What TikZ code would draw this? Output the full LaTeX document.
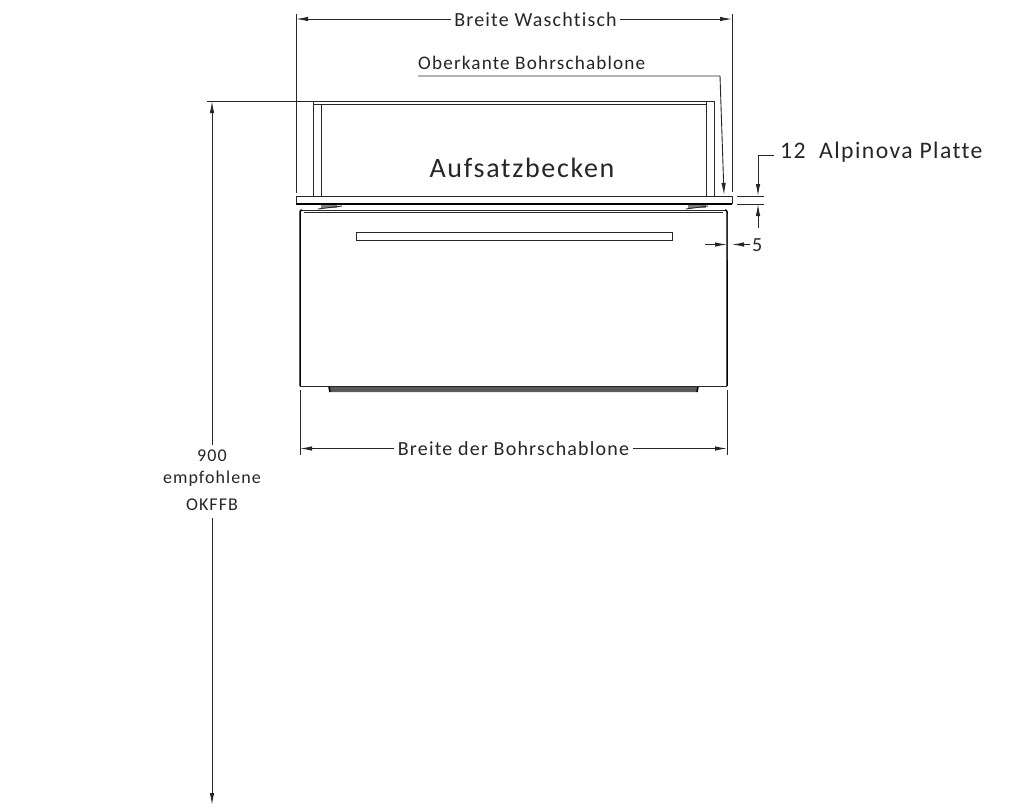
\documentclass[tikz,border=0pt]{standalone}
\usepackage{fontspec}
\setmainfont{Carlito}[LetterSpace=6,Ligatures={NoCommon,NoRare,NoDiscretionary},Contextuals=NoAlternate]
\usetikzlibrary{arrows.meta}
\definecolor{ink}{gray}{0.15}
\definecolor{txt}{gray}{0.15}
\tikzset{
  x=1pt,y=-1pt,
  thin line/.style={draw=ink,line width=0.9pt},
  heavy line/.style={draw=black,line width=1.5pt},
  dim/.style={draw=ink,line width=0.9pt},
  tip/.style={-{Latex[length=12pt,width=4.4pt]}},
  lbl/.style={text=txt,inner sep=0pt,font=\fontsize{20}{22}\selectfont,anchor=center},
}
\begin{document}
\begin{tikzpicture}
\useasboundingbox (0,0) rectangle (1017,807);
\fill[white] (0,0) rectangle (1017,807);
% labels
\node[lbl] (bw) at (535.5,20) {Breite Waschtisch};
\node[lbl,anchor=west,font=\fontsize{19.2}{22}\selectfont] (ob) at (418,63) {Oberkante Bohrschablone};
\node[lbl,font=\fontsize{28}{30}\selectfont] (auf) at (522,168) {Aufsatzbecken};
\node[lbl,anchor=west,font=\fontsize{23.7}{26}\selectfont] (alp) at (780,152) {12\ \ Alpinova Platte};
\node[lbl,anchor=west] (five) at (752,245) {5};
\node[lbl] (bb) at (513.5,449) {Breite der Bohrschablone};
\node[lbl,font=\fontsize{18}{20}\selectfont] (n900) at (212,456) {900};
\node[lbl,font=\fontsize{18}{20}\selectfont] (emp) at (212,479) {empfohlene};
\node[lbl,font=\fontsize{18}{20}\selectfont] (okf) at (212,505) {OKFFB};
% plate
\draw[thin line] (296,204) -- (296,196) -- (732,196) -- (732,204);
\draw[heavy line] (296,204) -- (732,204);
% basin
\draw[thin line] (207,101) -- (714,101);
\draw[thin line] (313,104) -- (706,104);
\draw[thin line] (313,101) -- (313,196);
\draw[thin line] (321,104) -- (321,196);
\draw[thin line] (706,101) -- (706,196);
\draw[thin line] (714,101) -- (714,196);
% pads
\fill[gray] (321,205) rectangle (337,208);
\fill[gray] (688,205) rectangle (706,208);
\draw[thin line] (318,209) -- (342,206);
\draw[thin line] (686,209) -- (708,206);
% body
\draw[thin line] (302,210) -- (725,210);
\draw[thin line] (304,212.5) -- (723,212.5);
\draw[heavy line] (300,386) -- (300,212) .. controls (300,210.5) and (301,210) .. (302,210);
\draw[heavy line] (727,386) -- (727,212) .. controls (727,210.5) and (726,210) .. (725,210);
\draw[thin line] (300,386) -- (727,386);
% tray
\fill[gray!70!black] (330,387) -- (698,387) -- (697,392) -- (330,392) -- cycle;
\draw[heavy line] (329,387) -- (330,392);
\draw[heavy line] (698,387) -- (697,392);
% handle
\node[draw=ink,line width=0.9pt,minimum width=316pt,minimum height=8.5pt,inner sep=0pt] (handle) at (514,236.5) {};
% extension lines
\coordinate (e1) at (296,14); \coordinate (e2) at (296,193);
\coordinate (e3) at (732,14); \coordinate (e4) at (732,192);
\draw[dim] (e1) -- (e2); \draw[dim] (e3) -- (e4);
\coordinate (e5) at (300,390); \coordinate (e6) at (300,455);
\coordinate (e7) at (727,390); \coordinate (e8) at (727,455);
\draw[dim] (e5) -- (e6); \draw[dim] (e7) -- (e8);
\coordinate (e9) at (737,196); \coordinate (e10) at (764,196);
\coordinate (e11) at (737,204); \coordinate (e12) at (764,204);
\draw[dim] (e9) -- (e10); \draw[dim] (e11) -- (e12);
\coordinate (e13) at (727,214); \coordinate (e14) at (727,260);
\draw[dim] (e13) -- (e14);
% dimension Breite Waschtisch
\coordinate (d1) at (296,19); \coordinate (d2) at (732,19);
\coordinate (d3) at (451,19); \coordinate (d4) at (620,19);
\draw[dim,tip] (d3) -- (d1);
\draw[dim,tip] (d4) -- (d2);
% Oberkante leader
\coordinate (l1) at (418,76); \coordinate (l2) at (720,76); \coordinate (l3) at (724,195);
\draw[dim,tip] (l1) -- (l2) -- (l3);
% 12
\coordinate (t1) at (774,155); \coordinate (t2) at (758,155); \coordinate (t3) at (758,196);
\coordinate (t4) at (758,228); \coordinate (t5) at (758,204);
\draw[dim,tip] (t1) -- (t2) -- (t3);
\draw[dim,tip] (t4) -- (t5);
% 5
\coordinate (f1) at (705,244.5); \coordinate (f2) at (727,244.5);
\coordinate (f3) at (750,244.5); \coordinate (f4) at (732,244.5);
\draw[dim,tip] (f1) -- (f2);
\draw[dim,tip] (f3) -- (f4);
% Breite der Bohrschablone
\coordinate (b1) at (300,448.5); \coordinate (b2) at (727,448.5);
\coordinate (b3) at (394,448.5); \coordinate (b4) at (633,448.5);
\draw[dim,tip] (b3) -- (b1);
\draw[dim,tip] (b4) -- (b2);
% 900
\coordinate (h1) at (212,101); \coordinate (h2) at (212,445);
\coordinate (h3) at (212,518); \coordinate (h4) at (212,805);
\draw[dim,tip] (h2) -- (h1);
\draw[dim,tip] (h3) -- (h4);
\end{tikzpicture}
\end{document}
